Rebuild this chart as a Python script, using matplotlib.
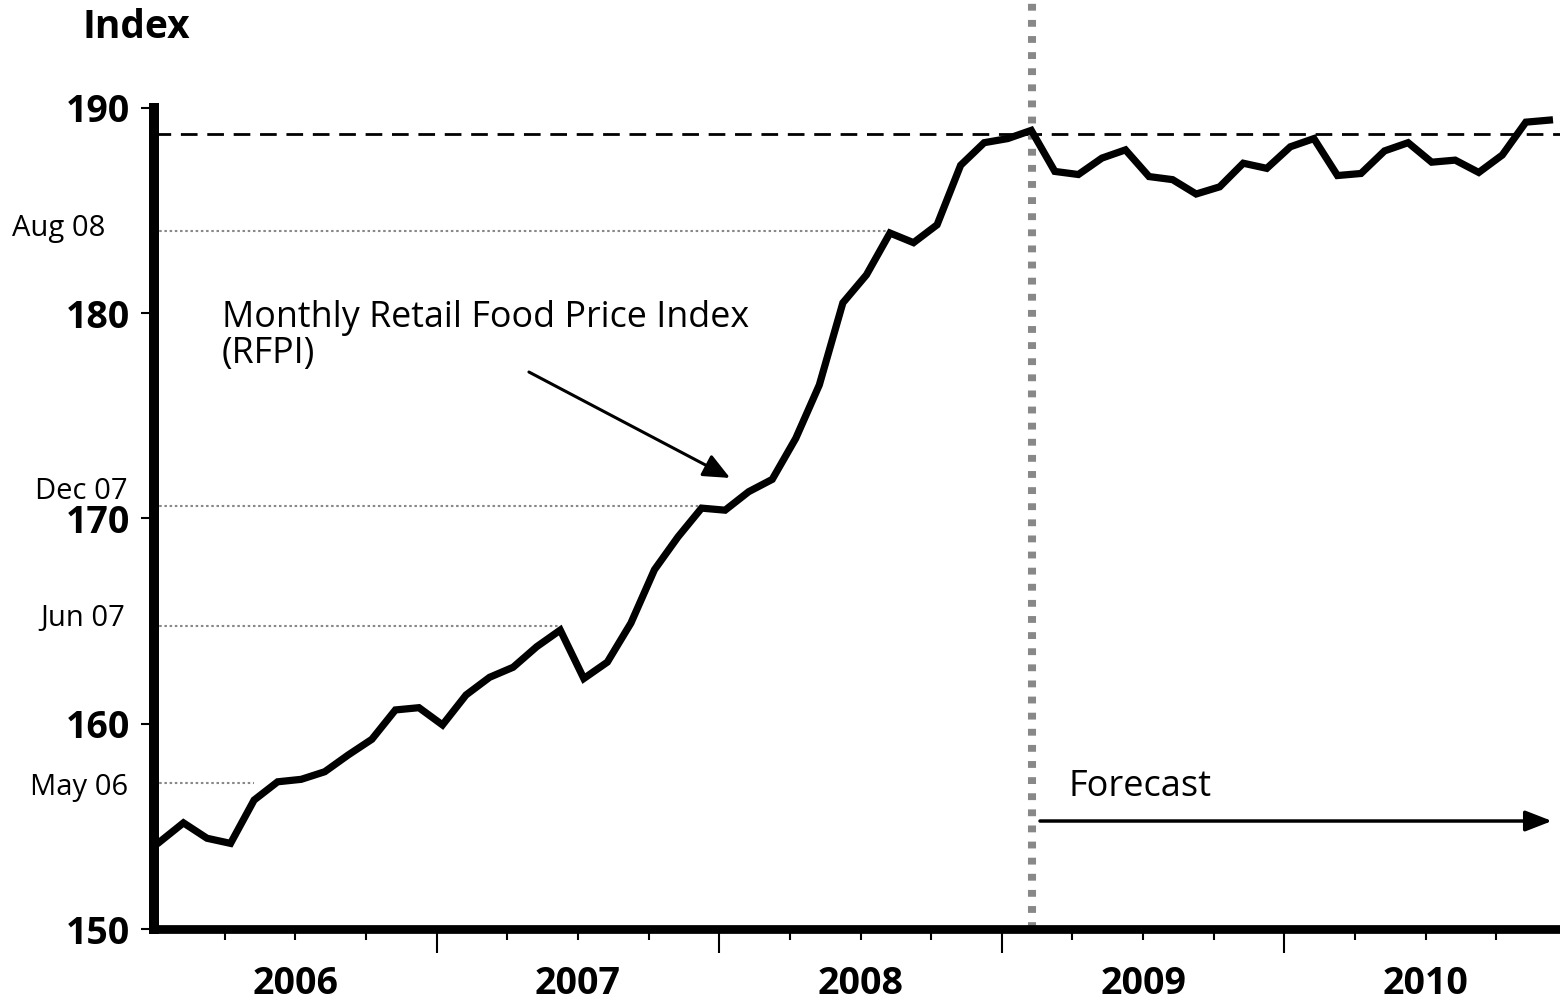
import numpy as np
import matplotlib.pyplot as plt

plt.rcParams['font.family'] = ['Open Sans', 'DejaVu Sans']

# monthly RFPI, Jan 2006 .. Dec 2010 (forecast from Mar 2009)
rfpi = [154.25, 155.17, 154.42, 154.17, 156.28, 157.17, 157.29, 157.66, 158.48, 159.24,
        160.67, 160.78, 159.94, 161.40, 162.26, 162.75, 163.75, 164.56, 162.20, 163.00,
        164.90, 167.50, 169.10, 170.50, 170.40, 171.30, 171.90, 173.90, 176.50, 180.50,
        181.86, 183.90, 183.43, 184.30, 187.20, 188.30, 188.50, 188.90, 186.90, 186.75,
        187.55, 187.95, 186.65, 186.50, 185.80, 186.15, 187.30, 187.05, 188.10, 188.50,
        186.70, 186.80, 187.90, 188.30, 187.35, 187.45, 186.85, 187.70, 189.30, 189.40]
years = ['2006', '2007', '2008', '2009', '2010']
yticks = [150, 160, 170, 180, 190]

guide_names = ['May 06', 'Jun 07', 'Dec 07', 'Aug 08']
guide_idx = [4, 17, 23, 31]
guide_level = [157.1, 164.76, 170.6, 184.0]
peak_level = 188.7
forecast_idx = 37

x = np.arange(len(rfpi)) + 0.25

fig = plt.figure(figsize=(15.6, 10), dpi=100)
ax = fig.add_axes([154 / 1560, 71 / 1000, 1406 / 1560, 929 / 1000])
ax.set_xlim(0, 59.7)
ax.set_ylim(150, 195.25)

# guide lines
for i, lev in zip(guide_idx, guide_level):
    ax.hlines(lev, 0, x[i], color='#888888', lw=1.5, linestyle=(0, (1.2, 1.3)), zorder=2)
ax.axhline(peak_level, color='black', lw=2, linestyle=(0, (6, 3.5)), zorder=2)
ax.axvline(x[forecast_idx] + 0.05, color='#888888', lw=5.8, linestyle=(0, (0.85, 1.15)),
           solid_capstyle='butt', dash_capstyle='butt', zorder=3)

ax.plot(x, rfpi, color='black', lw=5.2, solid_joinstyle='miter', zorder=4)

# spines & ticks
for s in ['top', 'right']:
    ax.spines[s].set_visible(False)
ax.spines['left'].set_linewidth(7.2)
ax.spines['left'].set_bounds(150, 190)
ax.spines['bottom'].set_linewidth(6.3)
ax.spines['left'].set_zorder(5)
ax.spines['bottom'].set_zorder(5)

ax.set_yticks(yticks)
ax.set_yticklabels([str(v) for v in yticks], fontsize=27, fontweight='bold')
ax.tick_params(axis='y', length=9.5, width=1.5, pad=8)

ax.set_xticks([12, 24, 36, 48])
ax.set_xticklabels([])
minor = [m for m in range(3, 60, 3) if m % 12]
ax.set_xticks(minor, minor=True)
ax.set_xticklabels([years[m // 12] if m % 12 == 6 else '' for m in minor], minor=True,
                   fontsize=27, fontweight='bold')
ax.tick_params(axis='x', which='major', length=17, width=1.5)
ax.tick_params(axis='x', which='minor', length=8, width=1.5, pad=18)

# month labels on the guides
offs = [(-26, -4), (-29, 7), (-26, 15), (-49, 2)]
for name, lev, (dx, dy) in zip(guide_names, guide_level, offs):
    ax.annotate(name, xy=(0, lev), xycoords=ax.get_yaxis_transform(),
                xytext=(dx, dy), textcoords='offset pixels',
                ha='right', va='center', fontsize=21, family=['Open Sans', 'DejaVu Sans'],
                annotation_clip=False)

fig.text(83 / 1560, 1 - 28 / 1000, 'Index', fontsize=28, fontweight='bold',
         ha='left', va='center')

ax.text(2.89, 178.86, 'Monthly Retail Food Price Index\n(RFPI)', fontsize=25.8,
        ha='left', va='center', linespacing=1.0)
ax.annotate('', xy=(24.46, 171.97), xytext=(15.92, 177.13),
            arrowprops=dict(arrowstyle='-|>,head_length=0.9,head_width=0.4',
                            color='black', lw=2.2, mutation_scale=18,
                            shrinkA=0, shrinkB=0))

ax.text(38.81, 156.92, 'Forecast', fontsize=26, ha='left', va='center')
ax.annotate('', xy=(59.36, 155.26), xytext=(37.62, 155.26),
            arrowprops=dict(arrowstyle='-|>,head_length=0.9,head_width=0.35',
                            color='black', lw=2.5, mutation_scale=18,
                            shrinkA=0, shrinkB=0))

fig.savefig('out.png', dpi=100)
